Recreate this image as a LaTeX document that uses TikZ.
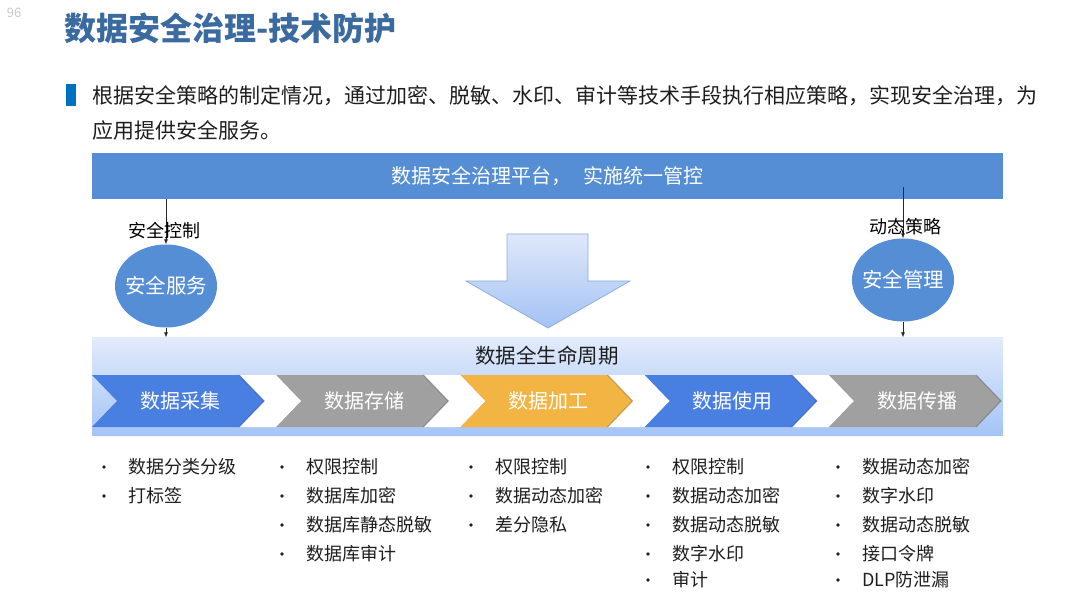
\documentclass[tikz,border=0pt]{standalone}
\usepackage{fontspec}
\setmainfont{Noto Sans CJK SC}
\usetikzlibrary{arrows.meta,shapes.geometric}

\definecolor{titleblue}{HTML}{3A6A9F}
\definecolor{barblue}{HTML}{558ED5}
\definecolor{markblue}{HTML}{0070C0}
\definecolor{stageblue}{HTML}{4A7FE2}
\definecolor{stagegray}{HTML}{A0A0A0}
\definecolor{stagegold}{HTML}{F2B443}
\definecolor{lifetop}{HTML}{E2EBFB}
\definecolor{lifebot}{HTML}{A5C4F6}
\definecolor{arrowtop}{HTML}{DFE8F9}
\definecolor{arrowbot}{HTML}{A4C2F4}
\definecolor{arrowline}{HTML}{8DADDC}
\definecolor{pagegray}{HTML}{C9C9C9}
\definecolor{ink}{HTML}{1E1E1E}

\newcommand{\fsz}[1]{\fontsize{#1}{#1}\selectfont}

\begin{document}
\begin{tikzpicture}[x=1pt,y=-1pt,
	txt/.style={inner sep=0pt,text=ink},
	oval/.style={shape=ellipse,fill=barblue,text=white,minimum width=102pt,minimum height=83pt,inner xsep=-5pt,inner ysep=0pt,font=\fsz{20.5}},
	lab/.style={inner sep=0pt,text=black,font=\fsz{18}},
	item/.style={inner sep=0pt,anchor=west,text=ink,font=\fsz{18}},
	link/.style={draw=black!85,line width=0.6pt,-{Latex[length=5pt,width=4pt]}},
	stage/.style={inner sep=0pt,text=white,font=\fsz{20}}]
		\useasboundingbox (0,0) rectangle (1080,604);
		
		% heading
		\node[inner sep=0pt,text=pagegray,font=\fsz{13}] (page) at (14,13) {96};
		\node[txt,anchor=west,text=titleblue,font=\bfseries\fsz{32}] (title) at (64,28) {数据安全治理-技术防护};
		\fill[markblue] (66,84) rectangle (76,106);
		\node[txt,anchor=west,font=\fsz{21}] (intro1) at (92,96) {根据安全策略的制定情况，通过加密、脱敏、水印、审计等技术手段执行相应策略，实现安全治理，为};
		\node[txt,anchor=west,font=\fsz{21}] (intro2) at (92,130) {应用提供安全服务。};
		
		% platform
		\node[fill=barblue,minimum width=911pt,minimum height=46pt,inner sep=0pt,text=white,font=\fsz{20}] (plat) at (547.5,176) {数据安全治理平台，\hspace{0.6em}实施统一管控};
		\shade[top color=arrowtop,bottom color=arrowbot,draw=arrowline,line width=0.8pt] (507,234) -- (588,234) -- (588,281) -- (630,281) -- (548,328) -- (466,281) -- (507,281) -- cycle;
		
		% lifecycle band
		\node[top color=lifetop,bottom color=lifebot,minimum width=911pt,minimum height=98pt,inner sep=0pt] (life) at (547.5,386.5) {};
		\node[txt,font=\fsz{20.5}] (lifetitle) at (547,356) {数据全生命周期};
		
		\node[oval] (svc) at (166,286) {安全服务};
		\node[oval] (mgmt) at (903,280) {安全管理};
		\coordinate (pin) at (903,187);
		
		\draw[link] (svc |- plat.south) -- (svc.north);
		\draw[link] (svc.south) -- (svc |- life.north);
		\draw[link] (pin) -- (mgmt.north);
		\draw[link] (mgmt.south) -- (mgmt |- life.north);
		
		\node[lab] (ctl) at (164,231) {安全控制};
		\node[lab] (dyn) at (905,227) {动态策略};
		
		\foreach \i in {0,...,3} {
			\pgfmathsetmacro{\ra}{92+184.25*\i+147}
			\pgfmathsetmacro{\lb}{92+184.25*(\i+1)}
			\fill[white] (\ra,375) -- (\ra+25,401) -- (\ra,427) -- (\lb,427) -- (\lb+25,401) -- (\lb,375) -- cycle;
		}
		\foreach \c/\t [count=\i] in {stageblue/数据采集,stagegray/数据存储,stagegold/数据加工,stageblue/数据使用,stagegray/数据传播} {
			\pgfmathsetmacro{\lx}{92+184.25*(\i-1)}
			\fill[\c] (\lx,375) -- (\lx+147,375) -- (\lx+172,401) -- (\lx+147,427) -- (\lx,427) -- (\lx+25,401) -- cycle;
			\draw[\c!65!black,line width=1.2pt,opacity=0.5] (\lx+147,375) -- (\lx+172,401) -- (\lx+147,427);
			\node[stage] (s\i) at (\lx+88,401) {\t};
		}
		
		% measures per stage
		\foreach \t [count=\i] in {数据分类分级,打标签} {
			\pgfmathsetmacro{\yy}{{467,496,525,554,580}[\i-1]}
			\fill[ink] (104,\yy) circle (1.9pt);
			\node[item] (a\i) at (128,\yy) {\t};
		}
		\foreach \t [count=\i] in {权限控制,数据库加密,数据库静态脱敏,数据库审计} {
			\pgfmathsetmacro{\yy}{{467,496,525,554,580}[\i-1]}
			\fill[ink] (282,\yy) circle (1.9pt);
			\node[item] (b\i) at (306,\yy) {\t};
		}
		\foreach \t [count=\i] in {权限控制,数据动态加密,差分隐私} {
			\pgfmathsetmacro{\yy}{{467,496,525,554,580}[\i-1]}
			\fill[ink] (471,\yy) circle (1.9pt);
			\node[item] (c\i) at (495,\yy) {\t};
		}
		\foreach \t [count=\i] in {权限控制,数据动态加密,数据动态脱敏,数字水印,审计} {
			\pgfmathsetmacro{\yy}{{467,496,525,554,580}[\i-1]}
			\fill[ink] (648,\yy) circle (1.9pt);
			\node[item] (d\i) at (672,\yy) {\t};
		}
		\foreach \t [count=\i] in {数据动态加密,数字水印,数据动态脱敏,接口令牌,DLP防泄漏} {
			\pgfmathsetmacro{\yy}{{467,496,525,554,580}[\i-1]}
			\fill[ink] (838,\yy) circle (1.9pt);
			\node[item] (e\i) at (862,\yy) {\t};
		}
\end{tikzpicture}
\end{document}
